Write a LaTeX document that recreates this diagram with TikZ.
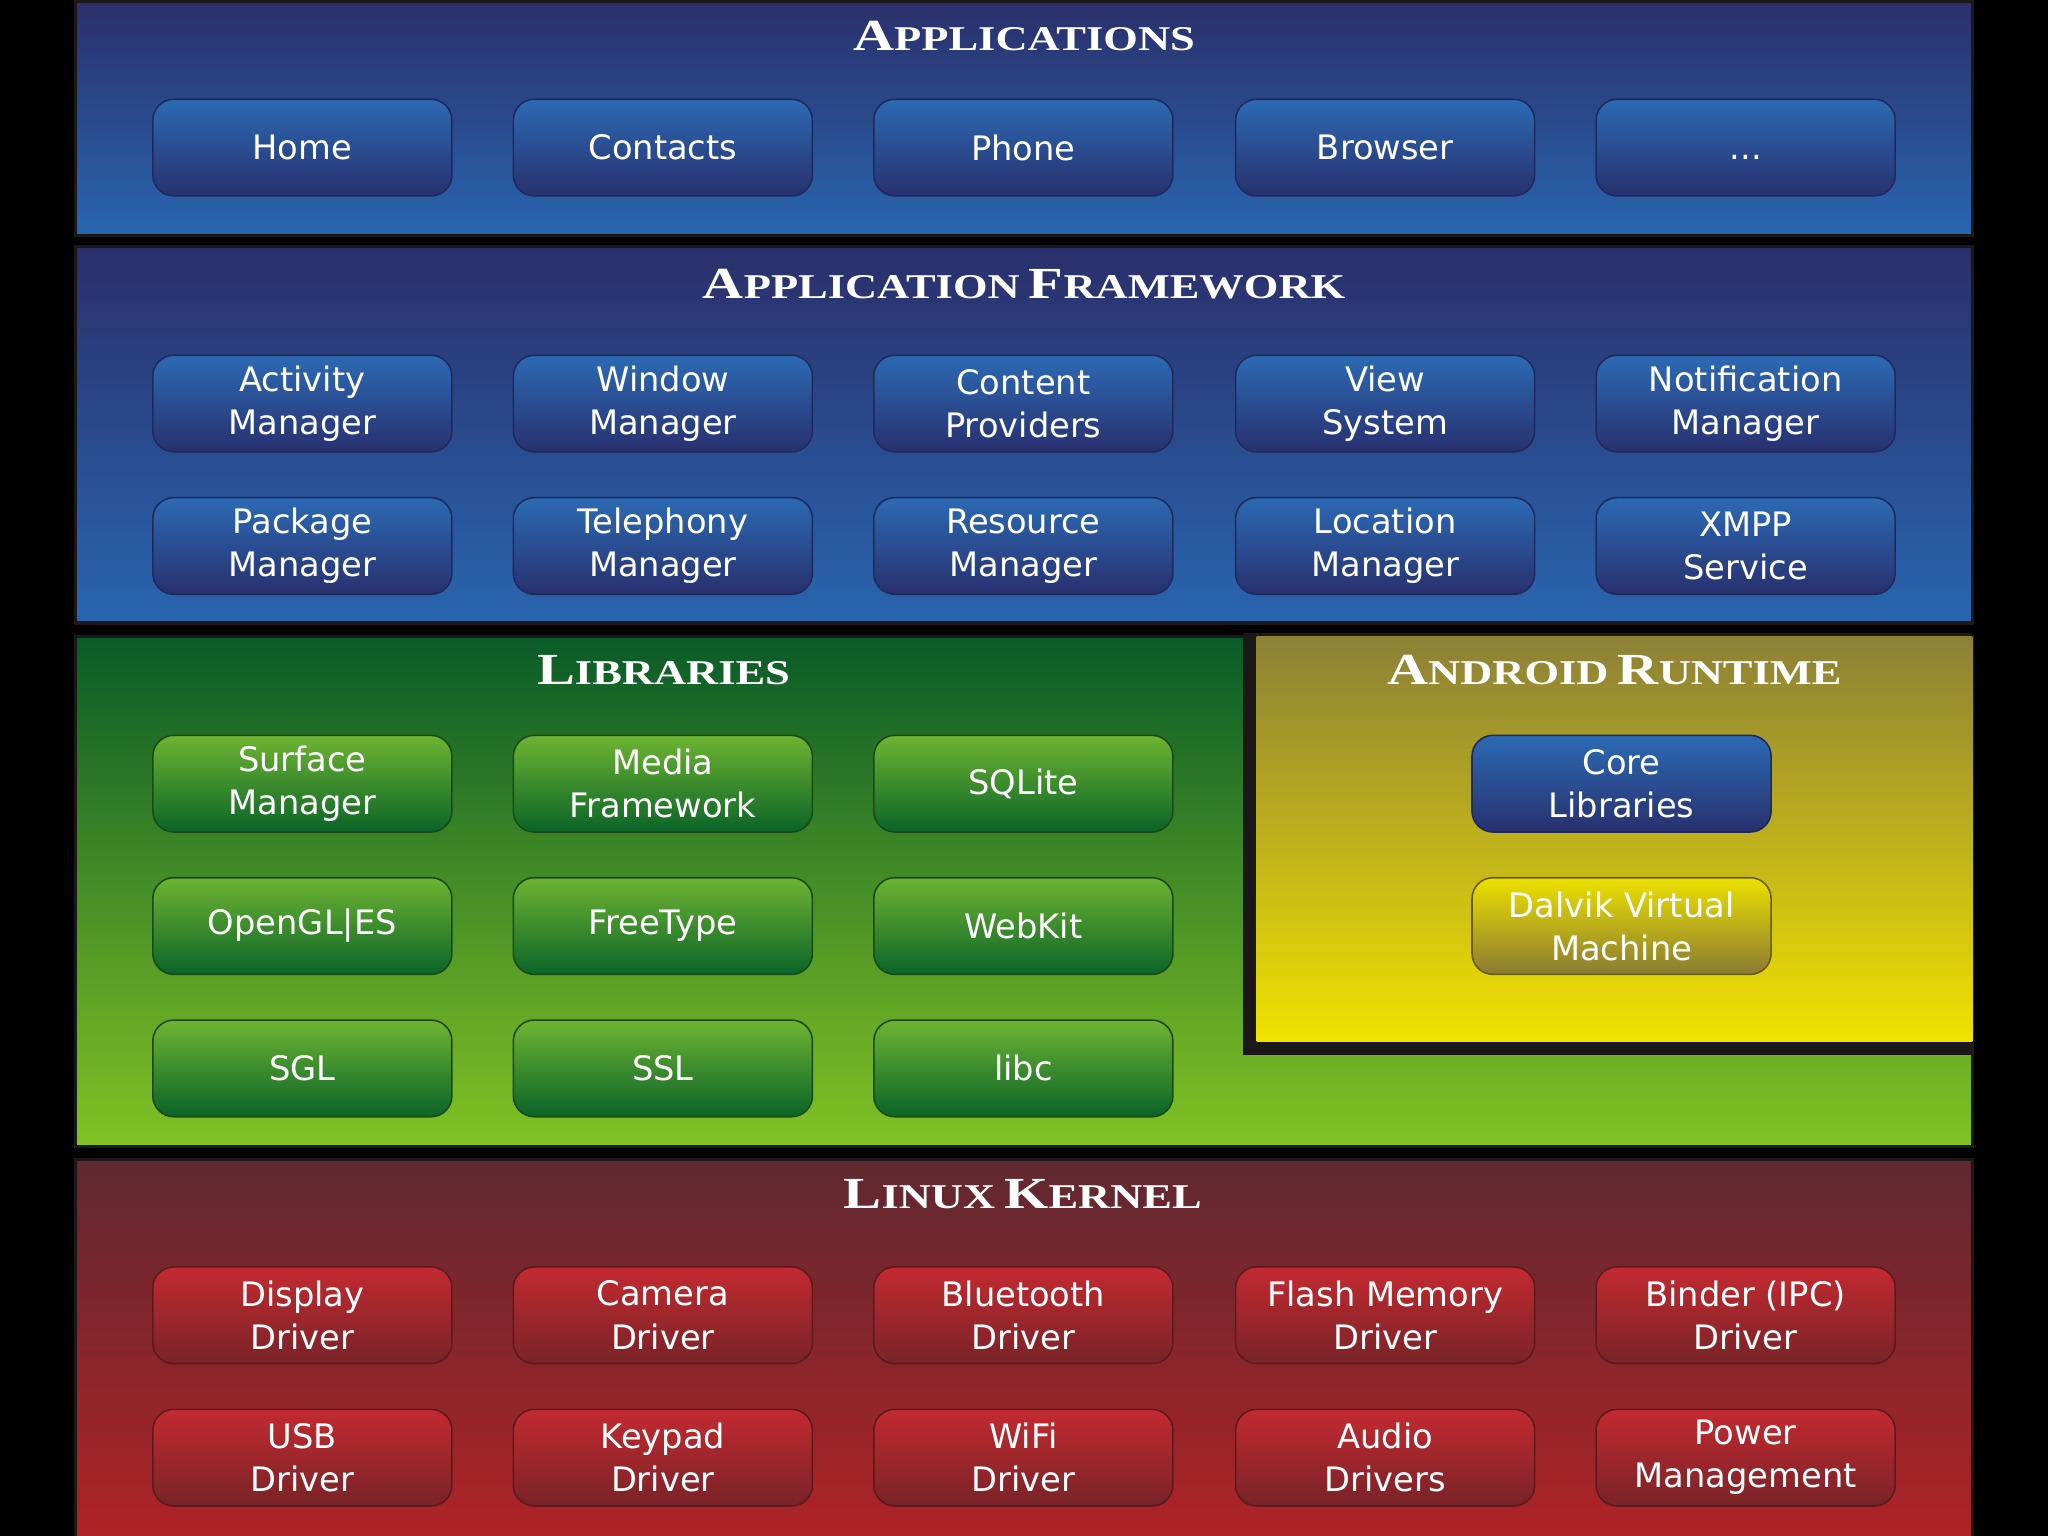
\documentclass[tikz,border=0pt]{standalone}
\usepackage{fontspec}
\setmainfont{DejaVu Sans}
\newfontfamily\titlefont{Liberation Serif}[FakeStretch=1.28]
\newcommand{\tsc}[2]{{\fontsize{17pt}{20pt}\selectfont #1}{\fontsize{13.3pt}{16pt}\selectfont #2}}
\newcommand{\tgap}{\hspace{3.5pt}}
\newcommand{\boxfont}{\fontsize{12.9pt}{16.5pt}\selectfont}
\definecolor{appTop}{HTML}{2A2F6A}
\definecolor{appBot}{HTML}{2966B0}
\definecolor{bbTop}{HTML}{2C6AB4}
\definecolor{bbBot}{HTML}{28306E}
\definecolor{bbLine}{HTML}{1F2A5A}
\definecolor{libTop}{HTML}{0A5A28}
\definecolor{libBot}{HTML}{82C224}
\definecolor{gbTop}{HTML}{6EB432}
\definecolor{gbBot}{HTML}{0A6428}
\definecolor{gbLine}{HTML}{1A4A1A}
\definecolor{rtTop}{HTML}{8C8037}
\definecolor{rtBot}{HTML}{F0E200}
\definecolor{ybTop}{HTML}{ECE200}
\definecolor{ybBot}{HTML}{8A7A32}
\definecolor{ybLine}{HTML}{6A5A1A}
\definecolor{lkTop}{HTML}{5F2830}
\definecolor{lkBot}{HTML}{AF2326}
\definecolor{rbTop}{HTML}{C32A30}
\definecolor{rbBot}{HTML}{782328}
\definecolor{rbLine}{HTML}{5A1A1E}
\definecolor{edge}{HTML}{1C1818}
\begin{document}
\begin{tikzpicture}[x=0.5pt,y=-0.5pt,
  cbox/.style={rounded corners=8pt, minimum width=114.5pt, minimum height=37pt,
    inner sep=0pt, line width=0.6pt, text=white, align=center, font=\boxfont},
  bluebox/.style={cbox, top color=bbTop, bottom color=bbBot, draw=bbLine},
  greenbox/.style={cbox, top color=gbTop, bottom color=gbBot, draw=gbLine},
  yellowbox/.style={cbox, top color=ybTop, bottom color=ybBot, draw=ybLine},
  redbox/.style={cbox, top color=rbTop, bottom color=rbBot, draw=rbLine},
  layer/.style={draw=edge, line width=1.2pt},
  ltitle/.style={anchor=base, text=white, inner sep=0pt, font=\titlefont\bfseries}]
\fill[black] (0,0) rectangle (1568,1176);
\useasboundingbox (0,0) rectangle (1568,1176);
% layers
\shade[layer, top color=appTop, bottom color=appBot] (57.5,1) rectangle (1510,180.5);
\shade[layer, top color=appTop, bottom color=appBot] (57.5,189) rectangle (1510,477);
\shade[layer, top color=libTop, bottom color=libBot] (57.5,487) rectangle (1510,877.5);
\fill[edge] (952,485) rectangle (1510,808);
\shade[top color=rtTop, bottom color=rtBot] (962,487.5) rectangle (1510,797.5);
\shade[layer, top color=lkTop, bottom color=lkBot] (57.5,887.5) rectangle (1510,1177);
% titles
\node[ltitle] (tapp) at (784,38.5) {\tsc{A}{PPLICATIONS}};
\node[ltitle] (tfw) at (784,228.5) {\tsc{A}{PPLICATION}\tgap\tsc{F}{RAMEWORK}};
\node[ltitle] (tlib) at (508,524) {\tsc{L}{IBRARIES}};
\node[ltitle] (trt) at (1236,524) {\tsc{A}{NDROID}\tgap\tsc{R}{UNTIME}};
\node[ltitle] (tlk) at (783,925) {\tsc{L}{INUX}\tgap\tsc{K}{ERNEL}};
% applications
\node[bluebox] (home) at (231.5,113) {Home};
\node[bluebox] (contacts) at (507.5,113) {Contacts};
\node[bluebox] (phone) at (783.5,113) {Phone};
\node[bluebox] (browser) at (1060.5,113) {Browser};
\node[bluebox] (more) at (1336.5,113) {\vphantom{Home}...};
% framework
\node[bluebox] (actm) at (231.5,309) {Activity\\Manager};
\node[bluebox] (winm) at (507.5,309) {Window\\Manager};
\node[bluebox] (cprov) at (783.5,309) {Content\\Providers};
\node[bluebox] (views) at (1060.5,309) {View\\System};
\node[bluebox] (notm) at (1336.5,309) {Notification\\Manager};
\node[bluebox] (pkgm) at (231.5,418) {Package\\Manager};
\node[bluebox] (telm) at (507.5,418) {Telephony\\Manager};
\node[bluebox] (resm) at (783.5,418) {Resource\\Manager};
\node[bluebox] (locm) at (1060.5,418) {Location\\Manager};
\node[bluebox] (xmpp) at (1336.5,418) {XMPP\\Service};
% libraries
\node[greenbox] (surf) at (231.5,600) {Surface\\Manager};
\node[greenbox] (media) at (507.5,600) {Media\\Framework};
\node[greenbox] (sqlite) at (783.5,600) {SQLite};
\node[greenbox] (opengl) at (231.5,709) {OpenGL|ES};
\node[greenbox] (ftype) at (507.5,709) {FreeType};
\node[greenbox] (webkit) at (783.5,709) {WebKit};
\node[greenbox] (sgl) at (231.5,818) {SGL};
\node[greenbox] (ssl) at (507.5,818) {SSL};
\node[greenbox] (libc) at (783.5,818) {libc};
% runtime
\node[bluebox] (core) at (1241.5,600) {Core\\Libraries};
\node[yellowbox] (dalvik) at (1241.5,709) {Dalvik Virtual\\Machine};
% kernel
\node[redbox] (disp) at (231.5,1007) {Display\\Driver};
\node[redbox] (cam) at (507.5,1007) {Camera\\Driver};
\node[redbox] (bt) at (783.5,1007) {Bluetooth\\Driver};
\node[redbox] (flash) at (1060.5,1007) {Flash Memory\\Driver};
\node[redbox] (binder) at (1336.5,1007) {Binder (IPC)\\Driver};
\node[redbox] (usb) at (231.5,1116) {USB\\Driver};
\node[redbox] (key) at (507.5,1116) {Keypad\\Driver};
\node[redbox] (wifi) at (783.5,1116) {WiFi\\Driver};
\node[redbox] (audio) at (1060.5,1116) {Audio\\Drivers};
\node[redbox] (power) at (1336.5,1116) {Power\\Management};
\end{tikzpicture}
\end{document}
